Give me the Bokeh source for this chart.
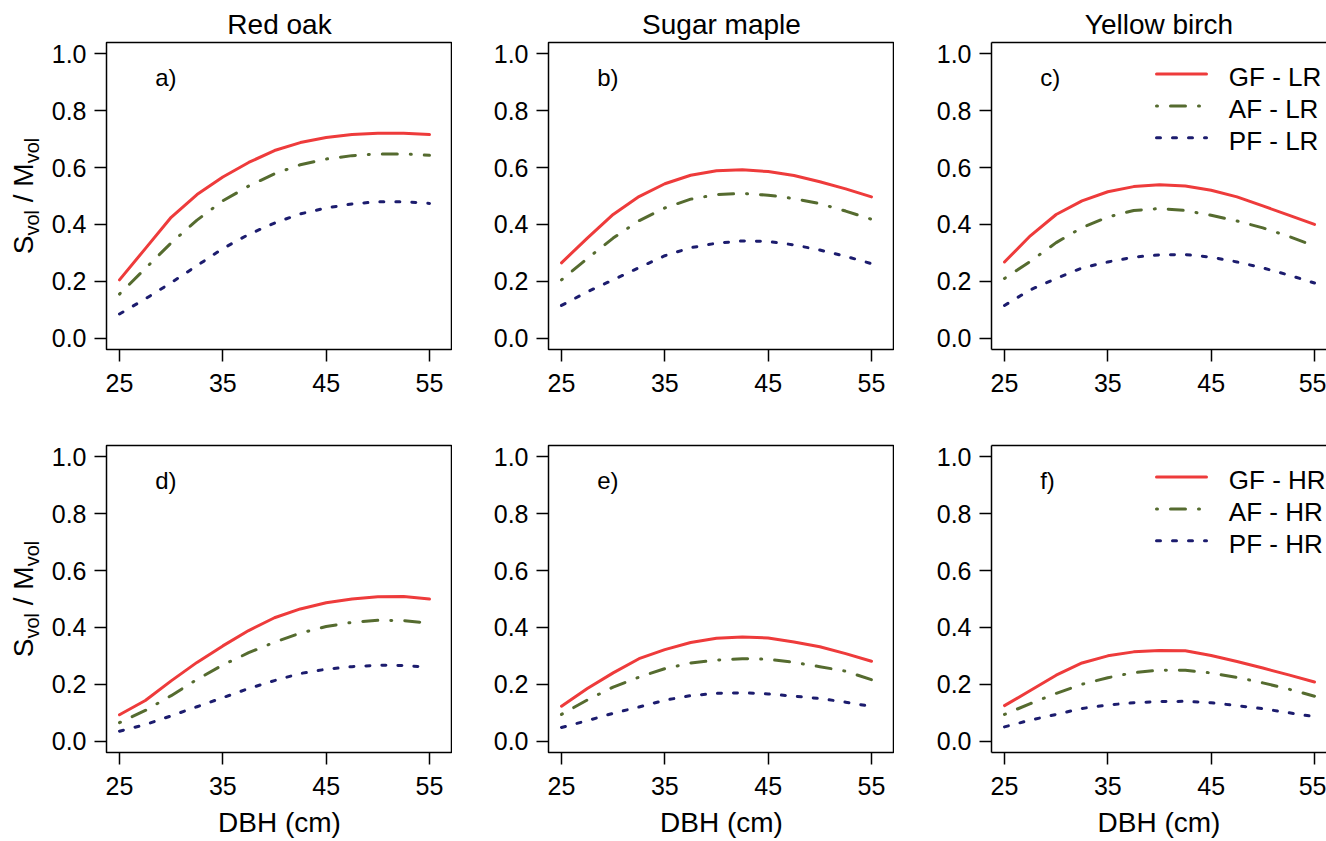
import math
from bokeh.plotting import figure
from bokeh.layouts import column, row
from bokeh.models import Range1d, FixedTicker, Label, LinearAxis, PrintfTickFormatter, Title, Div
from bokeh.embed import file_html
from bokeh.resources import INLINE

# ---------------- data ----------------
dbh = [25, 27.5, 30, 32.5, 35, 37.5, 40, 42.5, 45, 47.5, 50, 52.5, 55]

species = ["Red oak", "Sugar maple", "Yellow birch"]
x_ticks = [25, 35, 45, 55]
y_ticks = [0.0, 0.2, 0.4, 0.6, 0.8, 1.0]
x_label = "DBH (cm)"
y_label_main = ["S", "M"]
y_label_sub = "vol"

# low retention (LR), top row
a_gf = [0.205, 0.315, 0.425, 0.505, 0.567, 0.618, 0.66, 0.688, 0.706, 0.716, 0.721, 0.721, 0.716]
a_af = [0.155, 0.245, 0.335, 0.415, 0.483, 0.535, 0.578, 0.61, 0.63, 0.642, 0.648, 0.648, 0.643]
a_pf = [0.085, 0.138, 0.195, 0.255, 0.315, 0.365, 0.405, 0.437, 0.458, 0.472, 0.48, 0.48, 0.474]

b_gf = [0.265, 0.352, 0.435, 0.498, 0.543, 0.573, 0.589, 0.592, 0.586, 0.572, 0.55, 0.525, 0.497]
b_af = [0.205, 0.28, 0.352, 0.413, 0.458, 0.489, 0.505, 0.509, 0.503, 0.491, 0.473, 0.447, 0.418]
b_pf = [0.115, 0.163, 0.205, 0.248, 0.29, 0.318, 0.334, 0.342, 0.34, 0.328, 0.31, 0.288, 0.262]

c_gf = [0.268, 0.36, 0.435, 0.483, 0.515, 0.533, 0.54, 0.535, 0.52, 0.497, 0.465, 0.433, 0.4]
c_af = [0.21, 0.27, 0.336, 0.389, 0.426, 0.449, 0.456, 0.449, 0.432, 0.412, 0.388, 0.358, 0.324]
c_pf = [0.115, 0.17, 0.21, 0.247, 0.268, 0.285, 0.293, 0.294, 0.285, 0.268, 0.247, 0.222, 0.194]

# high retention (HR), bottom row
d_gf = [0.093, 0.143, 0.212, 0.277, 0.335, 0.389, 0.434, 0.465, 0.487, 0.5, 0.508, 0.509, 0.5]
d_af = [0.065, 0.108, 0.16, 0.217, 0.268, 0.311, 0.348, 0.38, 0.403, 0.418, 0.425, 0.424, 0.415]
d_pf = [0.035, 0.058, 0.089, 0.121, 0.153, 0.185, 0.213, 0.238, 0.253, 0.262, 0.267, 0.266, 0.26]

e_gf = [0.123, 0.185, 0.24, 0.29, 0.322, 0.347, 0.362, 0.366, 0.363, 0.349, 0.332, 0.308, 0.281]
e_af = [0.094, 0.145, 0.19, 0.225, 0.255, 0.275, 0.285, 0.29, 0.288, 0.277, 0.262, 0.246, 0.216]
e_pf = [0.048, 0.072, 0.098, 0.12, 0.144, 0.16, 0.168, 0.17, 0.166, 0.158, 0.15, 0.137, 0.122]

f_gf = [0.125, 0.178, 0.232, 0.275, 0.3, 0.314, 0.319, 0.318, 0.301, 0.28, 0.257, 0.233, 0.208]
f_af = [0.094, 0.132, 0.168, 0.2, 0.223, 0.241, 0.25, 0.249, 0.24, 0.224, 0.205, 0.183, 0.158]
f_pf = [0.05, 0.074, 0.094, 0.115, 0.127, 0.135, 0.139, 0.14, 0.135, 0.125, 0.114, 0.1, 0.086]

letters = ["a)", "b)", "c)", "d)", "e)", "f)"]
legend_top = ["GF - LR", "AF - LR", "PF - LR"]
legend_bottom = ["GF - HR", "AF - HR", "PF - HR"]

# ---------------- styling ----------------
FONT = "Liberation Sans"
RED = "#EE3B3B"
GREEN = "#556B2F"
BLUE = "#1C1C6E"
STYLES = [
    dict(line_color=RED, line_width=3, line_cap="round", line_join="round"),
    dict(line_color=GREEN, line_width=3, line_dash="1 13 15 13", line_cap="round", line_join="round"),
    dict(line_color=BLUE, line_width=3, line_dash="4 12", line_cap="round", line_join="round"),
]

PX_PER_X = 10.333
X0 = 23.742
YLAB_W = 45
LEFT = [106 - YLAB_W, 96, 97]
FRAME_W = [346, 346, 335]
FRAME_H = 307
ROW_TB = [(42, 60), (36, 89)]


def style_axis(ax, line=False):
    ax.axis_line_color = "black" if line else None
    ax.axis_line_width = 1.5
    ax.major_tick_out = 12
    ax.major_tick_in = 0
    ax.major_tick_line_width = 1.5
    ax.major_tick_line_color = "black"
    ax.minor_tick_line_color = None
    ax.major_label_text_font = FONT
    ax.major_label_text_font_size = "25px"
    ax.major_label_text_color = "black"
    ax.major_label_standoff = 8


def panel(col, rowi, series, letter, legend_texts=None):
    T, B = ROW_TB[rowi]
    x_end = X0 + FRAME_W[col] / PX_PER_X
    p = figure(width=LEFT[col] + FRAME_W[col], height=T + FRAME_H + B,
               x_range=Range1d(X0, x_end), y_range=Range1d(-0.04, 1.04),
               output_backend="svg", toolbar_location=None, title=None,
               min_border_left=LEFT[col], min_border_right=0,
               min_border_top=T, min_border_bottom=B)
    p.grid.visible = False
    p.background_fill_color = "white"
    p.border_fill_color = "white"
    last = col == 2
    bx = p.below[0]
    ly_ax = p.left[0]
    style_axis(bx, line=last)
    style_axis(ly_ax, line=last)
    bx.major_label_standoff = 12
    bx.ticker = FixedTicker(ticks=x_ticks)
    ly_ax.ticker = FixedTicker(ticks=y_ticks)
    ly_ax.formatter = PrintfTickFormatter(format="%.1f")
    if rowi == 1:
        bx.axis_label = x_label
        bx.axis_label_text_font = FONT
        bx.axis_label_text_font_size = "28px"
        bx.axis_label_text_font_style = "normal"
        bx.axis_label_text_color = "black"
        bx.axis_label_standoff = 9
    if last:
        p.outline_line_color = None
        top = LinearAxis(ticker=FixedTicker(ticks=[]), axis_line_color="black",
                         axis_line_width=1.5, major_tick_out=0, major_tick_in=0,
                         minor_tick_line_color=None, major_label_text_font_size="0px",
                         major_label_standoff=0, axis_label=None)
        p.add_layout(top, "above")
    else:
        p.outline_line_color = "black"
        p.outline_line_width = 1.5

    for ys, st in zip(series, STYLES):
        p.line(dbh, ys, **st)

    p.add_layout(Label(x=28.45, y=0.89, y_offset=8, text=letter, text_font=FONT,
                       text_font_size="24px", text_align="left",
                       text_baseline="alphabetic", text_color="black"))

    if rowi == 0:
        t = Title(text=species[col], align="center", text_font=FONT,
                  text_font_size="28px", text_font_style="normal",
                  text_color="black", standoff=5, offset=(4 if last else 0))
        p.add_layout(t, "above")

    if legend_texts is not None:
        ly = [0.929, 0.817, 0.705]
        for txt, yy, st in zip(legend_texts, ly, STYLES):
            p.line([39.71, 44.55], [yy, yy], **st)
            p.add_layout(Label(x=46.71, y=yy, y_offset=-3, text=txt, text_font=FONT,
                               text_font_size="26px", text_align="left",
                               text_baseline="alphabetic", text_color="black"))
    return p


def ylabel_div(rowi):
    T, B = ROW_TB[rowi]
    H = T + FRAME_H + B
    cy = T + (1.04 - 0.5) / 1.08 * FRAME_H   # y = 0.5 of the panel frame
    cx = 24
    sub = ('<span style="font-size:20px; vertical-align:-6px; line-height:0;">%s</span>'
           % y_label_sub)
    label = "%s%s / %s%s" % (y_label_main[0], sub, y_label_main[1], sub)
    html = (
        '<div style="position:relative; width:%dpx; height:%dpx; overflow:visible;">'
        '<div style="position:absolute; left:%.1fpx; top:%.1fpx; '
        'transform: translate(-50%%, -50%%) rotate(-90deg); '
        'font-family: \'%s\'; font-size: 28px; line-height: 28px; height: 28px; '
        'white-space: nowrap; color: black;">%s</div></div>'
        % (YLAB_W, H, cx, cy, FONT, label)
    )
    return Div(text=html, width=YLAB_W, height=H, margin=(0, 0, 0, 0))


top_series = [(a_gf, a_af, a_pf), (b_gf, b_af, b_pf), (c_gf, c_af, c_pf)]
bottom_series = [(d_gf, d_af, d_pf), (e_gf, e_af, e_pf), (f_gf, f_af, f_pf)]

top_row = [ylabel_div(0)] + [panel(i, 0, top_series[i], letters[i], legend_top if i == 2 else None) for i in range(3)]
bot_row = [ylabel_div(1)] + [panel(i, 1, bottom_series[i], letters[i + 3], legend_bottom if i == 2 else None) for i in range(3)]

layout = column(row(*top_row, spacing=0), row(*bot_row, spacing=0), spacing=0)

open("out.html", "w").write(file_html(layout, INLINE))
